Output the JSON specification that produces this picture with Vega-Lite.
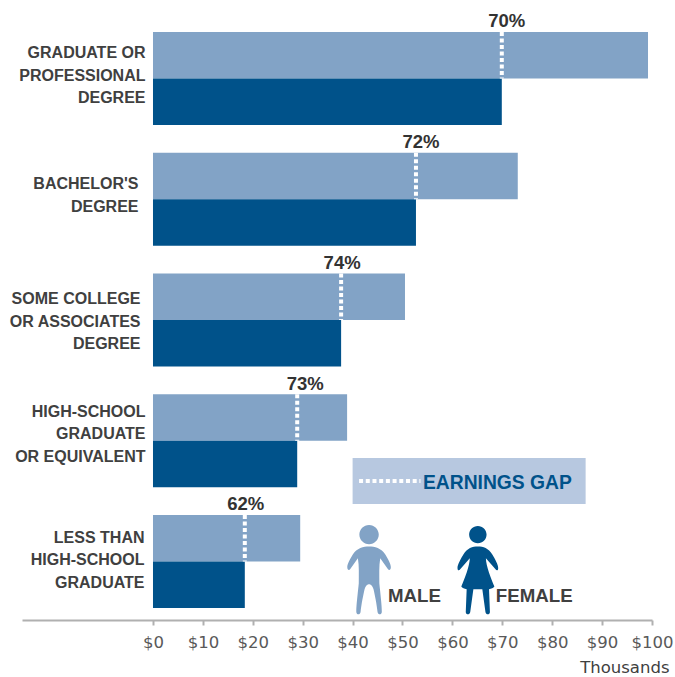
{
"$schema":"https://vega.github.io/schema/vega-lite/v6.json",
"width":630,"height":620,
"autosize":{"type":"none"},
"padding":{"left":22,"top":0,"right":23,"bottom":57},
"background":"white",
"config":{"view":{"stroke":null},"font":"Liberation Sans"},
"datasets":{
"bars":[
{"education":"GRADUATE OR|PROFESSIONAL|DEGREE","sex":"Male","earnings":99.2},
{"education":"GRADUATE OR|PROFESSIONAL|DEGREE","sex":"Female","earnings":69.9},
{"education":"BACHELOR'S|DEGREE","sex":"Male","earnings":73.1},
{"education":"BACHELOR'S|DEGREE","sex":"Female","earnings":52.7},
{"education":"SOME COLLEGE|OR ASSOCIATES|DEGREE","sex":"Male","earnings":50.5},
{"education":"SOME COLLEGE|OR ASSOCIATES|DEGREE","sex":"Female","earnings":37.7},
{"education":"HIGH-SCHOOL|GRADUATE|OR EQUIVALENT","sex":"Male","earnings":38.9},
{"education":"HIGH-SCHOOL|GRADUATE|OR EQUIVALENT","sex":"Female","earnings":28.9},
{"education":"LESS THAN|HIGH-SCHOOL|GRADUATE","sex":"Male","earnings":29.5},
{"education":"LESS THAN|HIGH-SCHOOL|GRADUATE","sex":"Female","earnings":18.4}
],
"gaps":[
{"education":"GRADUATE OR|PROFESSIONAL|DEGREE","female":69.9,"pct":"70%"},
{"education":"BACHELOR'S|DEGREE","female":52.7,"pct":"72%"},
{"education":"SOME COLLEGE|OR ASSOCIATES|DEGREE","female":37.7,"pct":"74%"},
{"education":"HIGH-SCHOOL|GRADUATE|OR EQUIVALENT","female":28.9,"pct":"73%"},
{"education":"LESS THAN|HIGH-SCHOOL|GRADUATE","female":18.4,"pct":"62%"}
]},
"resolve":{"scale":{"y":"independent"}},
"encoding":{
"x":{"type":"quantitative","scale":{"domain":[-26.25,100],"nice":false,"zero":false},
"axis":{"values":[0,10,20,30,40,50,60,70,80,90,100],"format":"$d","grid":false,"title":"Thousands","titleFont":"DejaVu Sans","titleFontSize":16.5,"titleFontWeight":"normal","titleColor":"#404040","titleAnchor":"end","titleAlign":"right","titleBaseline":"middle","titleX":647,"titleY":47,"labelFont":"DejaVu Sans","labelFontSize":16.5,"labelColor":"#595959","labelPadding":9,"labelFlush":false,"domainColor":"#b0b0b0","domainWidth":2,"tickColor":"#b0b0b0","tickWidth":2,"tickSize":5}}
},
"layer":[
{"layer":[
{"data":{"name":"bars"},"mark":{"type":"bar"},
"encoding":{
"x":{"field":"earnings","type":"quantitative"},
"x2":{"datum":0},
"y":{"field":"education","type":"nominal","sort":null,"scale":{"range":[32,608],"paddingInner":0.23,"paddingOuter":0},
"axis":{"title":null,"domain":false,"ticks":false,"offset":-131,"labelExpr":"split(datum.label,'|')","labelFont":"Liberation Sans","labelFontWeight":"bold","labelFontSize":16,"labelColor":"#404040","labelLineHeight":22.5,"labelAlign":"right",
"labelPadding":{"expr":"indexof(datum.label,'BACHELOR')>=0?15:indexof(datum.label,'SOME')>=0?13:indexof(datum.label,'LESS')>=0?9:8"},
"labelOffset":{"expr":"indexof(datum.label,'BACHELOR')>=0?-15:indexof(datum.label,'SOME')>=0?-21:indexof(datum.label,'HIGH-SCHOOL|')==0?-29:indexof(datum.label,'LESS')>=0?-24:-25"}}},
"yOffset":{"field":"sex","type":"nominal","sort":["Male","Female"],"scale":{"paddingInner":0,"paddingOuter":0}},
"color":{"field":"sex","type":"nominal","legend":null,"scale":{"domain":["Male","Female"],"range":["#82a3c6","#00528a"]}}
}},
{"data":{"name":"gaps"},"mark":{"type":"rule","color":"white","strokeWidth":4,"strokeDash":[4,2.5]},
"encoding":{
"x":{"field":"female","type":"quantitative"},
"y":{"field":"education","type":"nominal","sort":null,"bandPosition":0},
"y2":{"field":"education"}
}},
{"data":{"name":"gaps"},"transform":[{"filter":"datum.pct=='70%'||datum.pct=='72%'"}],"mark":{"type":"text","fontWeight":"bold","fontSize":18.5,"color":"#333333","dy":-11,"dx":5},
"encoding":{"x":{"field":"female","type":"quantitative"},"y":{"field":"education","type":"nominal","sort":null,"bandPosition":0},"text":{"field":"pct"}}},
{"data":{"name":"gaps"},"transform":[{"filter":"datum.pct=='74%'||datum.pct=='62%'"}],"mark":{"type":"text","fontWeight":"bold","fontSize":18.5,"color":"#333333","dy":-11,"dx":1},
"encoding":{"x":{"field":"female","type":"quantitative"},"y":{"field":"education","type":"nominal","sort":null,"bandPosition":0},"text":{"field":"pct"}}},
{"data":{"name":"gaps"},"transform":[{"filter":"datum.pct=='73%'"}],"mark":{"type":"text","fontWeight":"bold","fontSize":18.5,"color":"#333333","dy":-10,"dx":8},
"encoding":{"x":{"field":"female","type":"quantitative"},"y":{"field":"education","type":"nominal","sort":null,"bandPosition":0},"text":{"field":"pct"}}}
]},
{"data":{"values":[{"note":"key"}]},
"encoding":{"y":{"type":"quantitative","scale":{"domain":[0,100],"nice":false,"zero":false},"axis":null}},
"layer":[
{"mark":{"type":"rect","color":"#b7c8e0"},"encoding":{"x":{"datum":40},"x2":{"datum":86.7},"y":{"datum":26.13},"y2":{"datum":18.71}}},
{"mark":{"type":"rule","color":"white","strokeWidth":4,"strokeDash":[4,2.7]},"encoding":{"x":{"datum":41.3},"x2":{"datum":53.6},"y":{"datum":22.42}}},
{"mark":{"type":"text","align":"left","fontWeight":"bold","fontSize":19.3,"color":"#00528a","text":"EARNINGS GAP"},"encoding":{"x":{"datum":54.1},"y":{"datum":22.1}}},
{"mark":{"type":"text","align":"left","fontWeight":"bold","fontSize":18.7,"color":"#404040","text":"MALE"},"encoding":{"x":{"datum":47.1},"y":{"datum":3.9}}},
{"mark":{"type":"text","align":"left","fontWeight":"bold","fontSize":18.7,"color":"#404040","text":"FEMALE"},"encoding":{"x":{"datum":68.7},"y":{"datum":3.9}}},
{"mark":{"type":"point","filled":true,"opacity":1,"color":"#82a3c6","size":8000,"shape":"M.217,-.8A.217,.217 0 1 0 -.217,-.8A.217,.217 0 1 0 .217,-.8Z M0,-.536C.12,-.536 .28,-.5 .36,-.36C.42,-.26 .49,-.14 .487,-.07C.485,-.01 .45,.01 .42,-.03L.25,-.27C.22,-.1 .23,.1 .23,.29C.25,.5 .29,.8 .285,.93C.28,1 .2,1 .19,.93C.17,.75 .13,.55 .1,.42C.07,.33 .03,.31 0,.31C-.03,.31 -.07,.33 -.1,.42C-.13,.55 -.17,.75 -.19,.93C-.2,1 -.28,1 -.285,.93C-.29,.8 -.25,.5 -.23,.29C-.23,.1 -.22,-.1 -.25,-.27L-.42,-.03C-.45,.01 -.485,-.01 -.487,-.07C-.49,-.14 -.42,-.26 -.36,-.36C-.28,-.5 -.12,-.536 0,-.536Z"},"encoding":{"x":{"datum":43.3},"y":{"datum":8}}},
{"mark":{"type":"point","filled":true,"opacity":1,"color":"#00528a","size":8000,"shape":"M.195,-.8A.195,.195 0 1 0 -.195,-.8A.195,.195 0 1 0 .195,-.8Z M0,-.536C.12,-.536 .24,-.5 .32,-.36C.38,-.26 .46,-.12 .455,-.05C.45,.01 .42,.01 .39,-.03L.18,-.27C.18,-.1 .3,.2 .37,.36C.35,.39 .3,.41 .25,.42L.27,.93C.27,1 .18,1 .17,.93L.1,.42L-.1,.42L-.17,.93C-.18,1 -.27,1 -.27,.93L-.25,.42C-.3,.41 -.35,.39 -.37,.36C-.3,.2 -.18,-.1 -.18,-.27L-.39,-.03C-.42,.01 -.45,.01 -.455,-.05C-.46,-.12 -.38,-.26 -.32,-.36C-.24,-.5 -.12,-.536 0,-.536Z"},"encoding":{"x":{"datum":65.1},"y":{"datum":8}}}
]}
]
}
